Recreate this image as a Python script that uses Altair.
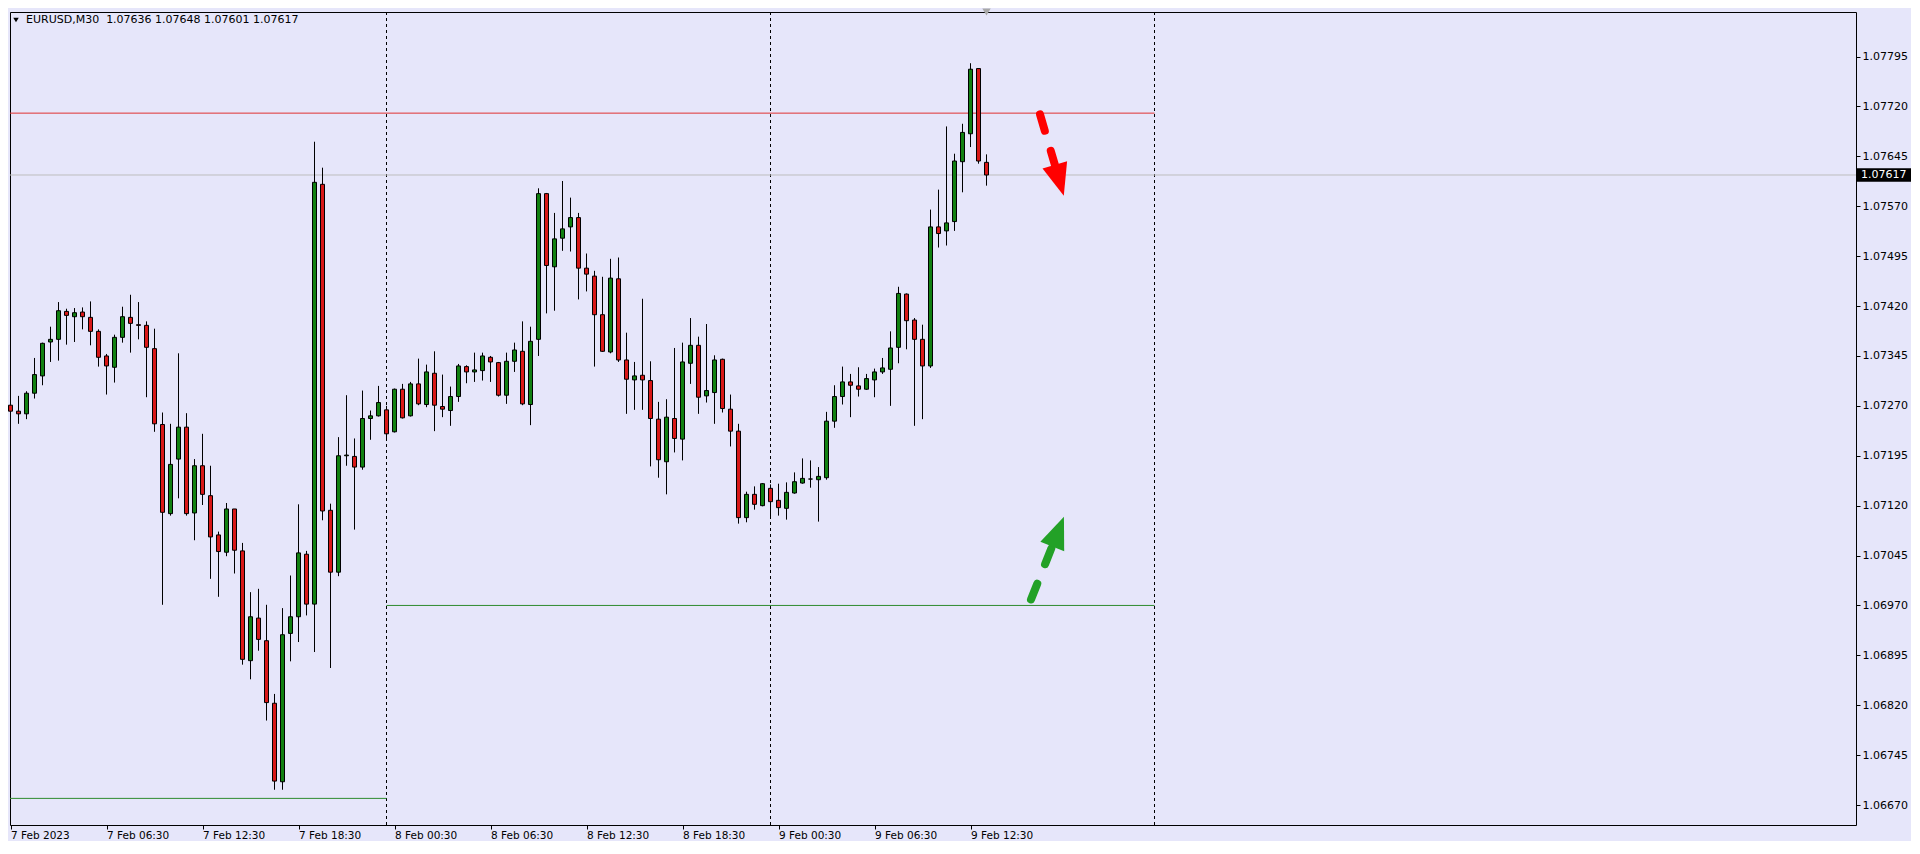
import altair as alt
import pandas as pd

# ---------------- data (EURUSD M30, bar 0 = 7 Feb 00:30) ----------------
opens = [1.07271, 1.07262, 1.07258, 1.07289, 1.07315, 1.07366, 1.07370, 1.07412, 1.07404, 1.07411,
         1.07403, 1.07382, 1.07345, 1.07328, 1.07373, 1.07403, 1.07392, 1.07391, 1.07356, 1.07242,
         1.07108, 1.07190, 1.07238, 1.07109, 1.07180, 1.07135, 1.07076, 1.07050, 1.07115, 1.07052,
         1.06887, 1.06951, 1.06917, 1.06823, 1.06705, 1.06928, 1.06953, 1.07047, 1.06972, 1.07603,
         1.07113, 1.07020, 1.07195, 1.07194, 1.07178, 1.07251, 1.07255, 1.07264, 1.07231, 1.07295,
         1.07255, 1.07303, 1.07272, 1.07319, 1.07269, 1.07263, 1.07284, 1.07329, 1.07321, 1.07323,
         1.07343, 1.07335, 1.07286, 1.07337, 1.07352, 1.07272, 1.07370, 1.07589, 1.07479, 1.07522,
         1.07539, 1.07553, 1.07477, 1.07465, 1.07407, 1.07351, 1.07461, 1.07339, 1.07309, 1.07316,
         1.07308, 1.07250, 1.07186, 1.07251, 1.07220, 1.07334, 1.07361, 1.07285, 1.07290, 1.07340,
         1.07265, 1.07232, 1.07102, 1.07137, 1.07120, 1.07146, 1.07128, 1.07116, 1.07139, 1.07154,
         1.07160, 1.07159, 1.07162, 1.07247, 1.07284, 1.07306, 1.07300, 1.07295, 1.07309, 1.07321,
         1.07325, 1.07358, 1.07438, 1.07399, 1.07370, 1.07330, 1.07539, 1.07533, 1.07547, 1.07637,
         1.07679, 1.07777, 1.07636]
highs = [1.07276, 1.07285, 1.07292, 1.07342, 1.07365, 1.07389, 1.07426, 1.07416, 1.07417, 1.07418,
         1.07427, 1.07385, 1.07348, 1.07377, 1.07419, 1.07437, 1.07426, 1.07397, 1.07386, 1.07260,
         1.07243, 1.07349, 1.07259, 1.07190, 1.07228, 1.07180, 1.07081, 1.07124, 1.07115, 1.07064,
         1.06990, 1.06995, 1.06971, 1.06837, 1.06966, 1.07015, 1.07122, 1.07052, 1.07667, 1.07628,
         1.07123, 1.07223, 1.07286, 1.07221, 1.07293, 1.07263, 1.07300, 1.07270, 1.07296, 1.07303,
         1.07306, 1.07341, 1.07332, 1.07352, 1.07317, 1.07299, 1.07333, 1.07331, 1.07350, 1.07350,
         1.07345, 1.07336, 1.07350, 1.07365, 1.07397, 1.07389, 1.07597, 1.07590, 1.07560, 1.07608,
         1.07583, 1.07560, 1.07499, 1.07473, 1.07464, 1.07491, 1.07493, 1.07380, 1.07336, 1.07431,
         1.07337, 1.07276, 1.07280, 1.07357, 1.07365, 1.07402, 1.07374, 1.07393, 1.07346, 1.07341,
         1.07287, 1.07243, 1.07141, 1.07149, 1.07154, 1.07152, 1.07153, 1.07155, 1.07170, 1.07191,
         1.07188, 1.07178, 1.07261, 1.07301, 1.07329, 1.07318, 1.07328, 1.07318, 1.07326, 1.07342,
         1.07382, 1.07449, 1.07439, 1.07402, 1.07392, 1.07565, 1.07595, 1.07690, 1.07649, 1.07694,
         1.07785, 1.07777, 1.07648]
lows = [1.07234, 1.07243, 1.07250, 1.07281, 1.07301, 1.07336, 1.07338, 1.07362, 1.07366, 1.07385,
        1.07361, 1.07329, 1.07287, 1.07305, 1.07365, 1.07350, 1.07370, 1.07283, 1.07231, 1.06971,
        1.07105, 1.07131, 1.07105, 1.07068, 1.07121, 1.07010, 1.06983, 1.07044, 1.07018, 1.06881,
        1.06859, 1.06902, 1.06797, 1.06693, 1.06693, 1.06886, 1.06915, 1.06955, 1.06900, 1.07098,
        1.06876, 1.07014, 1.07180, 1.07084, 1.07174, 1.07219, 1.07254, 1.07218, 1.07230, 1.07251,
        1.07254, 1.07271, 1.07268, 1.07232, 1.07253, 1.07240, 1.07276, 1.07304, 1.07306, 1.07308,
        1.07306, 1.07284, 1.07273, 1.07321, 1.07271, 1.07241, 1.07345, 1.07409, 1.07413, 1.07503,
        1.07502, 1.07430, 1.07442, 1.07329, 1.07351, 1.07349, 1.07336, 1.07258, 1.07264, 1.07264,
        1.07179, 1.07162, 1.07137, 1.07200, 1.07188, 1.07303, 1.07258, 1.07275, 1.07243, 1.07260,
        1.07209, 1.07093, 1.07095, 1.07114, 1.07119, 1.07102, 1.07105, 1.07099, 1.07138, 1.07153,
        1.07147, 1.07096, 1.07159, 1.07237, 1.07272, 1.07253, 1.07284, 1.07294, 1.07283, 1.07318,
        1.07270, 1.07334, 1.07355, 1.07240, 1.07250, 1.07327, 1.07508, 1.07511, 1.07533, 1.07591,
        1.07659, 1.07634, 1.07601]
closes = [1.07262, 1.07258, 1.07289, 1.07317, 1.07364, 1.07370, 1.07413, 1.07406, 1.07410, 1.07404,
          1.07382, 1.07343, 1.07330, 1.07373, 1.07404, 1.07394, 1.07391, 1.07358, 1.07243, 1.07110,
          1.07182, 1.07238, 1.07108, 1.07180, 1.07137, 1.07073, 1.07051, 1.07115, 1.07053, 1.06889,
          1.06953, 1.06919, 1.06824, 1.06706, 1.06926, 1.06953, 1.07049, 1.06972, 1.07606, 1.07112,
          1.07020, 1.07195, 1.07196, 1.07178, 1.07251, 1.07255, 1.07275, 1.07228, 1.07295, 1.07252,
          1.07303, 1.07273, 1.07321, 1.07271, 1.07265, 1.07284, 1.07330, 1.07321, 1.07324, 1.07345,
          1.07336, 1.07286, 1.07337, 1.07354, 1.07273, 1.07367, 1.07589, 1.07481, 1.07521, 1.07536,
          1.07553, 1.07477, 1.07468, 1.07407, 1.07352, 1.07462, 1.07339, 1.07310, 1.07315, 1.07309,
          1.07251, 1.07189, 1.07253, 1.07221, 1.07336, 1.07361, 1.07283, 1.07293, 1.07339, 1.07266,
          1.07232, 1.07102, 1.07137, 1.07122, 1.07153, 1.07126, 1.07117, 1.07140, 1.07156, 1.07161,
          1.07160, 1.07164, 1.07247, 1.07284, 1.07306, 1.07301, 1.07295, 1.07311, 1.07321, 1.07327,
          1.07357, 1.07439, 1.07398, 1.07370, 1.07330, 1.07539, 1.07529, 1.07545, 1.07638, 1.07681,
          1.07776, 1.07638, 1.07617]

time_labels = ["7 Feb 2023", "7 Feb 06:30", "7 Feb 12:30", "7 Feb 18:30", "8 Feb 00:30",
               "8 Feb 06:30", "8 Feb 12:30", "8 Feb 18:30", "9 Feb 00:30", "9 Feb 06:30",
               "9 Feb 12:30"]
time_tick_bars = [0, 12, 24, 36, 48, 60, 72, 84, 96, 108, 120]
price_ticks = [1.06670, 1.06745, 1.06820, 1.06895, 1.06970, 1.07045, 1.07120, 1.07195,
               1.07270, 1.07345, 1.07420, 1.07495, 1.07570, 1.07645, 1.07720, 1.07795]
day_separators = [47, 95, 143]

level_price = [1.0771, 1.0697, 1.0668]
level_from = [-0.0625, 47, -0.0625]
level_to = [143, 143, 47]
level_color = ["#E03030", "#2E8B2E", "#2E8B2E"]

bid_price = 1.07617
header = "EURUSD,M30\u00a0 1.07636 1.07648 1.07601 1.07617"

# arrows: tail -> shaft end, head centre, head rotation
arrow_tail_x = [128.69, 127.56]
arrow_tail_y = [1.07708, 1.06979]
arrow_end_x = [130.70, 130.41]
arrow_end_y = [1.07626, 1.07065]
arrow_head_x = [131.10, 130.95]
arrow_head_y = [1.07609, 1.07081]
arrow_angle = [163.7, 21.4]
arrow_color = ["#FF0000", "#23A127"]

# ---------------- styling ----------------
W, H = 1846, 813
BG = "#E6E6FA"
FONT = "DejaVu Sans"
UP, DOWN = "#118011", "#D81818"
X0 = -0.0625

df = pd.DataFrame({"i": list(range(len(opens))), "open": opens, "high": highs,
                   "low": lows, "close": closes})
df["color"] = [UP if c >= o else DOWN for o, c in zip(opens, closes)]
df["x0"] = df["i"] - 0.25
df["x1"] = df["i"] + 0.25

x_scale = alt.Scale(domain=[X0, X0 + W / 8], nice=False, zero=False)
y_scale = alt.Scale(domain=[1.06640, 1.07862], nice=False, zero=False)

label_expr = "[" + ",".join("'%s'" % t for t in time_labels) + "][round(datum.value/12)]"
x_axis = alt.Axis(values=time_tick_bars, labelExpr=label_expr, labelAlign="left",
                  labelBaseline="top", labelPadding=1, tickSize=4, tickColor="black",
                  domain=False, grid=False, labelFont=FONT, labelFontSize=10.5,
                  labelColor="black", labelOverlap=False, labelFlush=False, title=None)
y_axis = alt.Axis(orient="right", values=price_ticks, format=".5f", tickSize=4,
                  tickColor="black", labelPadding=2, domain=False, grid=False,
                  labelFont=FONT, labelFontSize=11, labelColor="black",
                  labelOverlap=False, labelFlush=False, title=None)


def X(f, **kw):
    return alt.X(f, type="quantitative", scale=x_scale, axis=x_axis, title=None, **kw)


def Y(f, **kw):
    return alt.Y(f, type="quantitative", scale=y_scale, axis=y_axis, title=None, **kw)


sep = alt.Chart(pd.DataFrame({"i": day_separators})).mark_rule(
    color="black", strokeDash=[3, 3], strokeWidth=1).encode(x=X("i"))

lv = pd.DataFrame({"p": level_price, "a": level_from, "b": level_to, "c": level_color})
levels = alt.Chart(lv).mark_rule(strokeWidth=1).encode(
    x=X("a"), x2="b", y=Y("p"), color=alt.Color("c:N", scale=None))

bid = alt.Chart(pd.DataFrame({"p": [bid_price]})).mark_rule(
    color="#BEBEBE", strokeWidth=1).encode(y=Y("p"))

wicks = alt.Chart(df).mark_rule(color="black", strokeWidth=1).encode(
    x=X("i"), y=Y("low"), y2="high")

bodies = alt.Chart(df).mark_rect(stroke="black", strokeWidth=1).encode(
    x=X("x0"), x2="x1", y=Y("open"), y2="close", fill=alt.Fill("color:N", scale=None))

ar = pd.DataFrame({"x": arrow_tail_x, "y": arrow_tail_y, "x2": arrow_end_x,
                   "y2": arrow_end_y, "hx": arrow_head_x, "hy": arrow_head_y,
                   "ang": arrow_angle, "c": arrow_color})
shafts = alt.Chart(ar).mark_rule(strokeWidth=8, strokeDash=[17, 21], strokeCap="round").encode(
    x=X("x"), x2="x2", y=Y("y"), y2="y2", color=alt.Color("c:N", scale=None))
heads = alt.Chart(ar).mark_point(shape="M0,-1L0.8,1L-0.8,1Z", filled=True, size=1024,
                                 opacity=1, strokeWidth=0).encode(
    x=X("hx"), y=Y("hy"), angle=alt.Angle("ang:Q", scale=None),
    color=alt.Color("c:N", scale=None))

one = pd.DataFrame({"t": [header], "p": [bid_price], "txt": ["%.5f" % bid_price],
                    "top": [bid_price + 0.0001], "bot": [bid_price - 0.0001],
                    "last": [len(opens) - 1], "ymax": [1.07862]})
head_tri = alt.Chart(one).mark_point(shape="triangle-down", filled=True, size=30,
                                     color="black", opacity=1).encode(
    x=alt.value(6), y=alt.value(8))
head_txt = alt.Chart(one).mark_text(align="left", baseline="middle", font=FONT,
                                    fontSize=11, color="black").encode(
    x=alt.value(16), y=alt.value(8), text="t:N")
shift_mark = alt.Chart(one).mark_point(shape="triangle-down", filled=True, size=70,
                                       color="#A8A8A8", opacity=1).encode(
    x=X("last"), y=Y("ymax"))
bid_box = alt.Chart(one).mark_rect(color="black").encode(
    x=alt.value(W), x2=alt.value(W + 55), y=Y("top"), y2="bot")
bid_txt = alt.Chart(one).mark_text(align="left", baseline="middle", font=FONT,
                                   fontSize=11, color="white").encode(
    x=alt.value(W + 5), y=Y("p"), text="txt:N")

chart = alt.layer(
    sep, levels, bid, wicks, bodies, shafts, heads, shift_mark,
    head_tri, head_txt, bid_box, bid_txt
).properties(
    width=W, height=H, padding=0, background=BG
).configure_view(
    stroke="black", strokeWidth=1, fill=BG
)

chart.save("out.html", embed_options={"renderer": "svg", "actions": False})
